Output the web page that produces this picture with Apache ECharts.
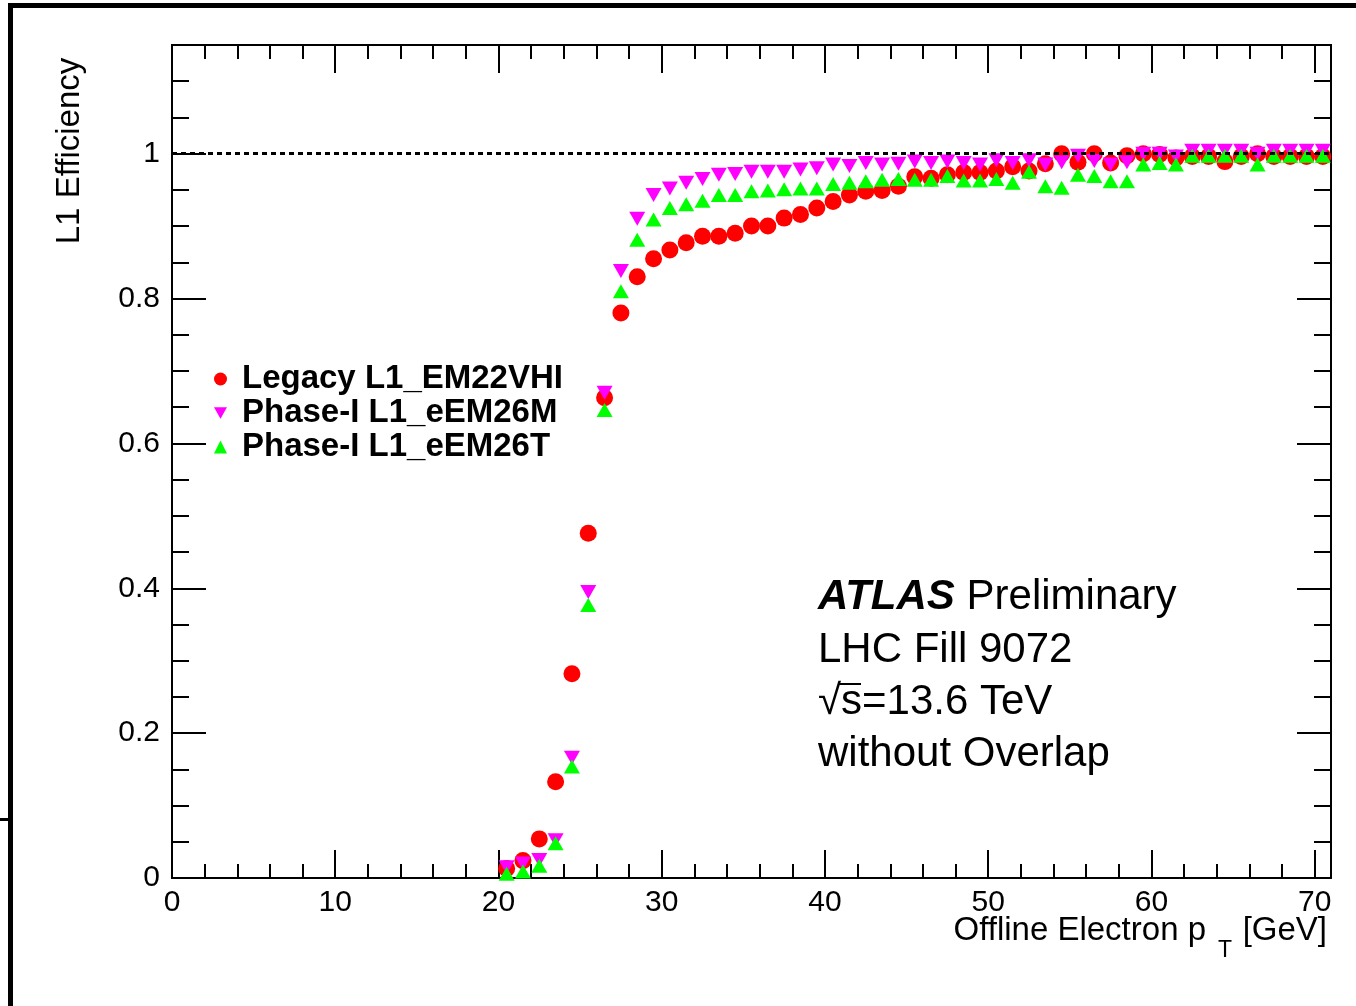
<!DOCTYPE html>
<html>
<head>
<meta charset="utf-8">
<script src="https://cdn.jsdelivr.net/npm/echarts@6/dist/echarts.min.js"></script>
<style>
  html, body { margin: 0; padding: 0; background: #fff; }
  #chart { width: 1356px; height: 1006px; }
</style>
</head>
<body>
<div id="chart"></div>
<script>
// bin centres (GeV)
const ptBins = [20.5, 21.5, 22.5, 23.5, 24.5, 25.5, 26.5, 27.5, 28.5, 29.5,
  30.5, 31.5, 32.5, 33.5, 34.5, 35.5, 36.5, 37.5, 38.5, 39.5,
  40.5, 41.5, 42.5, 43.5, 44.5, 45.5, 46.5, 47.5, 48.5, 49.5,
  50.5, 51.5, 52.5, 53.5, 54.5, 55.5, 56.5, 57.5, 58.5, 59.5,
  60.5, 61.5, 62.5, 63.5, 64.5, 65.5, 66.5, 67.5, 68.5, 69.5, 70.5];

const legacyEff = [0.013, 0.024, 0.054, 0.133, 0.282, 0.476, 0.663, 0.780, 0.830, 0.855,
  0.867, 0.877, 0.886, 0.886, 0.890, 0.900, 0.900, 0.911, 0.916, 0.925,
  0.934, 0.943, 0.948, 0.949, 0.955, 0.968, 0.966, 0.971, 0.974, 0.974,
  0.976, 0.982, 0.976, 0.986, 1.000, 0.988, 1.000, 0.987, 0.997, 1.000,
  0.999, 0.994, 0.996, 0.996, 0.989, 0.996, 1.000, 0.996, 0.996, 0.996, 0.996];

const eEM26MEff = [0.015, 0.020, 0.025, 0.052, 0.166, 0.395, 0.670, 0.838, 0.910, 0.943,
  0.952, 0.960, 0.965, 0.971, 0.972, 0.975, 0.975, 0.975, 0.978, 0.980,
  0.985, 0.983, 0.987, 0.985, 0.986, 0.989, 0.987, 0.989, 0.987, 0.985,
  0.991, 0.987, 0.991, 0.985, 0.988, 0.997, 0.990, 0.985, 0.988, 1.000,
  1.000, 0.996, 1.004, 1.004, 1.004, 1.004, 1.000, 1.004, 1.004, 1.004, 1.004];

const eEM26TEff = [0.006, 0.009, 0.017, 0.048, 0.154, 0.377, 0.646, 0.810, 0.881, 0.909,
  0.925, 0.930, 0.935, 0.943, 0.943, 0.948, 0.949, 0.951, 0.952, 0.952,
  0.958, 0.960, 0.962, 0.964, 0.965, 0.964, 0.964, 0.969, 0.963, 0.963,
  0.965, 0.960, 0.975, 0.955, 0.953, 0.971, 0.969, 0.962, 0.962, 0.985,
  0.987, 0.985, 0.997, 0.997, 0.997, 0.997, 0.985, 0.997, 0.997, 0.997, 0.997];

const seriesNames = ["Legacy L1_EM22VHI", "Phase-I L1_eEM26M", "Phase-I L1_eEM26T"];

const FONT = '"Liberation Sans", Arial, Helvetica, sans-serif';
const X_MAX = 71, Y_MAX = 1.15;
const DOWN_TRI = "path://M0,0 L10,0 L5,9 Z";

const pairs = ys => ptBins.map((x, i) => [x, ys[i]]);

// ROOT-style frame axes: ticks inside, mirrored on top / right
function xAx(pos, interval, len, labels) {
  return {
    type: "value", position: pos, min: 0, max: X_MAX, interval: interval,
    axisLine: { show: false, onZero: false },
    splitLine: { show: false },
    axisTick: { show: true, inside: true, length: len, lineStyle: { color: "#000", width: 2 } },
    axisLabel: { show: labels, color: "#000", fontSize: 30, fontFamily: FONT, margin: 10, showMaxLabel: false },
  };
}
function yAx(pos, interval, len, labels) {
  return {
    type: "value", position: pos, min: 0, max: Y_MAX, interval: interval,
    axisLine: { show: false, onZero: false },
    splitLine: { show: false },
    axisTick: { show: true, inside: true, length: len, lineStyle: { color: "#000", width: 2 } },
    axisLabel: { show: labels, color: "#000", fontSize: 30, fontFamily: FONT, margin: 12, showMaxLabel: false },
  };
}

const chart = echarts.init(document.getElementById("chart"));

chart.setOption({
  animation: false,
  backgroundColor: "#fff",
  grid: { left: 172, right: 25, top: 45, bottom: 128, show: true, borderColor: "#000", borderWidth: 2, backgroundColor: "transparent" },
  xAxis: [xAx("bottom", 10, 28, true), xAx("bottom", 2, 14, false), xAx("top", 10, 28, false), xAx("top", 2, 14, false)],
  yAxis: [yAx("left", 0.2, 34, true), yAx("left", 0.05, 17, false), yAx("right", 0.2, 34, false), yAx("right", 0.05, 17, false)],
  legend: {
    orient: "vertical", left: 209, top: 357, itemGap: 0,
    itemWidth: 13, itemHeight: 13,
    data: [
      { name: seriesNames[0], icon: "circle" },
      { name: seriesNames[1], icon: DOWN_TRI },
      { name: seriesNames[2], icon: "triangle" },
    ],
    textStyle: { fontSize: 33, fontWeight: "bold", fontFamily: FONT, color: "#000", lineHeight: 34, padding: [0, 0, 0, 10] },
  },
  series: [
    {
      name: seriesNames[0], type: "scatter", data: pairs(legacyEff),
      symbol: "circle", symbolSize: 17, itemStyle: { color: "#ff0000", opacity: 1 },
      markLine: {
        silent: true, symbol: "none", label: { show: false },
        lineStyle: { color: "#000", type: [5, 4], width: 3 },
        data: [{ yAxis: 1 }],
      },
    },
    {
      name: seriesNames[1], type: "scatter", data: pairs(eEM26MEff),
      symbol: "triangle", symbolRotate: 180, symbolSize: [16, 14], itemStyle: { color: "#ff00ff", opacity: 1 },
    },
    {
      name: seriesNames[2], type: "scatter", data: pairs(eEM26TEff),
      symbol: "triangle", symbolSize: [16, 14], itemStyle: { color: "#00ff00", opacity: 1 },
    },
  ],
  graphic: [
    // outer frame of the screenshot
    { type: "rect", shape: { x: 8, y: 3, width: 1348, height: 5 }, style: { fill: "#000" } },
    { type: "rect", shape: { x: 8, y: 3, width: 5, height: 1003 }, style: { fill: "#000" } },
    { type: "rect", shape: { x: 0, y: 818, width: 10, height: 3 }, style: { fill: "#000" } },
    // axis titles
    { type: "text", x: 70, y: 151, rotation: Math.PI / 2,
      style: { text: "L1 Efficiency", font: "33px " + FONT, fill: "#000", align: "center", verticalAlign: "middle" } },
    { type: "text", x: 1206, y: 931,
      style: { text: "Offline Electron p", font: "33px " + FONT, fill: "#000", align: "right", verticalAlign: "middle" } },
    { type: "text", x: 1225, y: 951,
      style: { text: "T", font: "23px " + FONT, fill: "#000", align: "center", verticalAlign: "middle" } },
    { type: "text", x: 1327, y: 931,
      style: { text: "[GeV]", font: "33px " + FONT, fill: "#000", align: "right", verticalAlign: "middle" } },
    // ATLAS label
    { type: "text", x: 818, y: 597,
      style: { text: "{b|ATLAS} Preliminary", font: "42px " + FONT, fill: "#000", align: "left", verticalAlign: "middle",
        rich: { b: { fontSize: 42, fontWeight: "bold", fontStyle: "italic", fontFamily: FONT, fill: "#000" } } } },
    { type: "text", x: 818, y: 650,
      style: { text: "LHC Fill 9072", font: "42px " + FONT, fill: "#000", align: "left", verticalAlign: "middle" } },
    { type: "text", x: 818, y: 702,
      style: { text: "√s=13.6 TeV", font: "42px " + FONT, fill: "#000", align: "left", verticalAlign: "middle" } },
    { type: "line", shape: { x1: 838, y1: 684, x2: 861, y2: 684 }, style: { stroke: "#000", lineWidth: 2 } },
    { type: "text", x: 818, y: 754,
      style: { text: "without Overlap", font: "42px " + FONT, fill: "#000", align: "left", verticalAlign: "middle" } },
  ],
});
</script>
</body>
</html>
